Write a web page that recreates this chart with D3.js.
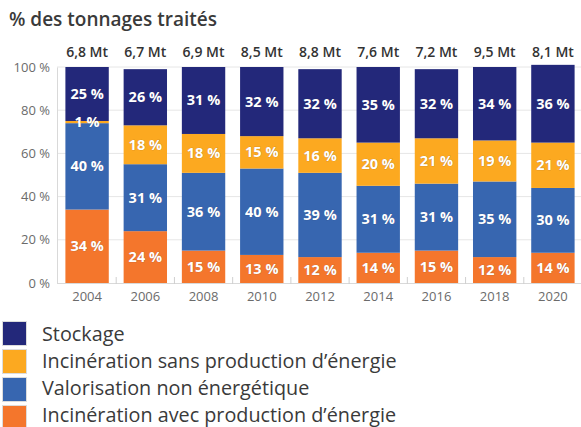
<!DOCTYPE html>
<html><head><meta charset="utf-8">
<script src="https://cdn.jsdelivr.net/npm/d3@7"></script>
<style>body{margin:0;background:#fff;font-family:"Open Sans",sans-serif;}</style>
</head><body><svg id="c" width="581" height="427"></svg>
<script>
const years = ["2004","2006","2008","2010","2012","2014","2016","2018","2020"];
const totals = ["6,8 Mt","6,7 Mt","6,9 Mt","8,5 Mt","8,8 Mt","7,6 Mt","7,2 Mt","9,5 Mt","8,1 Mt"];
const incAvec = [34,24,15,13,12,14,15,12,14];
const valoNonEn = [40,31,36,40,39,31,31,35,30];
const incSans = [1,18,18,15,16,20,21,19,21];
const stockage = [25,26,31,32,32,35,32,34,36];
const seriesNames = ["Incinération avec production d’énergie","Valorisation non énergétique","Incinération sans production d’énergie","Stockage"];
const seriesColors = ["#f4762c","#3766b0","#fca920","#23287a"];
const yTicks = [0,20,40,60,80,100];
const title = "% des tonnages traités";

const svg = d3.select("#c");
const rows = years.map((y,i)=>({year:y, s0:incAvec[i], s1:valoNonEn[i], s2:incSans[i], s3:stockage[i]}));
const stack = d3.stack().keys(["s0","s1","s2","s3"])(rows);

const x = d3.scaleBand().domain(years).range([55.5, 584.5]).paddingInner(0.255).paddingOuter(0.17);
const y = d3.scaleLinear().domain([0,100]).range([283,67]);

svg.append("text").attr("x",9).attr("y",26).attr("font-size",19).attr("font-weight",600)
  .attr("fill","#3a3a3a").text(title);

// gridlines
svg.append("g").selectAll("line").data(yTicks.slice(1)).join("line")
  .attr("x1",57).attr("x2",581).attr("y1",d=>y(d)).attr("y2",d=>y(d))
  .attr("stroke","#e6e6e6").attr("stroke-width",1);

// y axis
const ya = svg.append("g").attr("transform","translate(57,0)")
  .call(d3.axisLeft(y).tickValues(yTicks).tickFormat(d=>d+" %").tickSize(0).tickPadding(7));
ya.select(".domain").attr("stroke","#d9d9d9");
ya.selectAll("text").attr("font-size",13).attr("fill","#6b6b6b").attr("font-family","Open Sans");

// x axis
const xa = svg.append("g").attr("transform","translate(0,283)")
  .call(d3.axisBottom(x).tickSize(0).tickPadding(9));
xa.select(".domain").remove();
xa.selectAll("text").attr("font-size",13).attr("fill","#6b6b6b").attr("font-family","Open Sans");
svg.append("line").attr("x1",57).attr("x2",581).attr("y1",283.5).attr("y2",283.5).attr("stroke","#d9d9d9");
// separator ticks between bars
const step = x.step();
svg.append("g").selectAll("line").data(years.slice(0,-1)).join("line")
  .attr("x1",d=>x(d)+x.bandwidth()+ (step-x.bandwidth())/2).attr("x2",d=>x(d)+x.bandwidth()+(step-x.bandwidth())/2)
  .attr("y1",277).attr("y2",284).attr("stroke","#cfcfcf");

// bars
const g = svg.append("g");
stack.forEach((layer,li)=>{
  g.append("g").selectAll("rect").data(layer).join("rect")
    .attr("x",d=>x(d.data.year)).attr("width",x.bandwidth())
    .attr("y",d=>y(d[1])).attr("height",d=>y(d[0])-y(d[1]))
    .attr("fill",seriesColors[li]);
});
// labels
stack.forEach((layer,li)=>{
  g.append("g").selectAll("text").data(layer).join("text")
    .attr("x",d=>x(d.data.year)+x.bandwidth()/2)
    .attr("y",d=>(y(d[0])+y(d[1]))/2+5)
    .attr("text-anchor","middle").attr("font-size",14.5).attr("font-weight",700)
    .attr("fill","#fff").attr("stroke","rgba(40,40,60,0.35)").attr("stroke-width",0.6).attr("paint-order","stroke")
    .text(d=>(d[1]-d[0])+" %");
});
// totals
svg.append("g").selectAll("text").data(years).join("text")
  .attr("x",d=>x(d)+x.bandwidth()/2).attr("y",57)
  .attr("text-anchor","middle").attr("font-size",14).attr("font-weight",600).attr("fill","#333")
  .text((d,i)=>totals[i]);

// legend
const legOrder = [3,2,1,0];
const lg = svg.append("g");
legOrder.forEach((si,k)=>{
  lg.append("rect").attr("x",2.5).attr("y",321.5+k*28).attr("width",24).attr("height",24)
    .attr("fill",seriesColors[si]).attr("stroke","#dcdcdc").attr("stroke-width",1);
  lg.append("text").attr("x",42).attr("y",341+k*27).attr("font-size",19.8).attr("fill","#3a3a3a")
    .text(seriesNames[si]);
});
</script></body></html>
